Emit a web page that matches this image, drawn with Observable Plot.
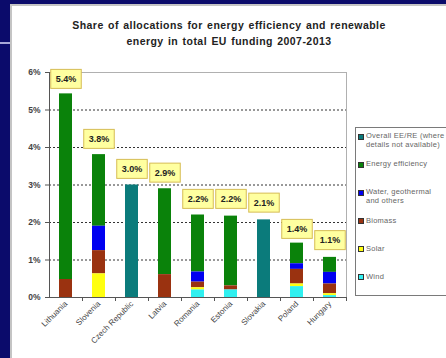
<!DOCTYPE html>
<html>
<head>
<meta charset="utf-8">
<script src="https://cdn.jsdelivr.net/npm/d3@7"></script>
<script src="https://cdn.jsdelivr.net/npm/@observablehq/plot@0.6"></script>
<style>
  html, body { margin: 0; padding: 0; }
  body { width: 446px; height: 358px; overflow: hidden; font-family: "Liberation Sans", Arial, sans-serif; }
  #wrap { position: relative; width: 446px; height: 358px; background: #0b0b6b; overflow: hidden; }
  #panel { position: absolute; left: 10px; top: 4px; width: 460px; height: 380px; background: #fff; border: 2px solid #c4c4c4; }
  #deco { position: absolute; left: 0; top: 42px; width: 10px; height: 2px; background: #a8a8d8; }
  #title { position: absolute; left: 12px; width: 434px; top: 17px; text-align: center; font-weight: bold; font-size: 10.5px; line-height: 16px; color: #222; letter-spacing: 0.45px; word-spacing: 1px; }
  #chart { position: absolute; left: 0; top: 0; }
  #legend { position: absolute; left: 355px; top: 127px; width: 120px; height: 169px; border: 1px solid #7a7a7a; background: #fff; padding-top: 3px; box-sizing: border-box; }
  .item { display: flex; align-items: flex-start; height: 28.2px; }
  .sw { width: 4px; height: 4px; border: 1px solid #333; margin: 2.5px 2px 0 2px; flex: none; }
  .lab { font-size: 7.5px; line-height: 9px; color: #666; white-space: pre-line; letter-spacing: 0.25px; }
</style>
</head>
<body>
<div id="wrap">
  <div id="panel"></div>
  <div id="deco"></div>
  <div id="title"></div>
  <div id="chart"></div>
  <div id="legend"></div>
</div>
<script>
// ---- data ----
const titleLines = ["Share of allocations for energy efficiency and renewable", "energy in total EU funding 2007-2013"];
const countries = ["Lithuania", "Slovenia", "Czech Republic", "Latvia", "Romania", "Estonia", "Slovakia", "Poland", "Hungary"];
const totals = [5.4, 3.8, 3.0, 2.9, 2.2, 2.2, 2.1, 1.4, 1.1];
const wind = [0, 0, 0, 0, 0.20, 0.20, 0, 0.29, 0.05];
const solar = [0, 0.63, 0, 0, 0.06, 0, 0, 0.07, 0.05];
const biomass = [0.48, 0.62, 0, 0.61, 0.15, 0.11, 0, 0.39, 0.26];
const water = [0, 0.65, 0, 0, 0.27, 0, 0, 0.15, 0.31];
const efficiency = [4.95, 1.91, 0, 2.29, 1.52, 1.86, 0, 0.55, 0.40];
const overall = [0, 0, 3.0, 0, 0, 0, 2.07, 0, 0];
const seriesNames = ["Overall EE/RE (where\ndetails not available)", "Energy efficiency", "Water, geothermal\nand others", "Biomass", "Solar", "Wind"];
const seriesValues = [overall, efficiency, water, biomass, solar, wind];
const yTicks = [0, 1, 2, 3, 4, 5, 6];
const gridTicks = [1, 2, 3, 4, 5];
const colors = ["#0b7b7b", "#0a820a", "#0000f0", "#9a3210", "#ffff10", "#30f0f0"];

// tidy table
const table = [];
seriesNames.forEach((s, k) => countries.forEach((c, i) => table.push({country: c, type: s, value: seriesValues[k][i]})));
const stackOrder = seriesNames.slice().reverse();
const labels = countries.map((c, i) => ({country: c, total: totals[i]}));

document.getElementById("title").innerHTML = titleLines.join("<br>");

const plot = Plot.plot({
  width: 446,
  height: 358,
  marginLeft: 49,
  marginRight: 100,
  marginTop: 72,
  marginBottom: 61,
  style: {background: "transparent", fontFamily: "Liberation Sans, Arial, sans-serif", color: "#333"},
  x: {domain: countries, paddingInner: 0.6, paddingOuter: 0.3, label: null},
  y: {domain: [0, 6], label: null},
  color: {domain: seriesNames, range: colors},
  marks: [
    Plot.gridY(gridTicks, {stroke: "#333", strokeOpacity: 1, strokeDasharray: "2,2"}),
    Plot.frame({stroke: "#b0b0b0"}),
    Plot.barY(table, {x: "country", y: "value", fill: "type", z: "type", order: stackOrder}),
    Plot.frame({anchor: "left", stroke: "#555"}),
    Plot.frame({anchor: "bottom", stroke: "#555"}),
    Plot.axisY({ticks: yTicks, tickFormat: d => d + "%", tickSize: 4, tickPadding: 5, fontSize: 8.5, fontWeight: "bold", label: null, stroke: "#555", fill: "#444"}),
    Plot.axisX({tickSize: 0, tickRotate: -45, tickPadding: 5, fontSize: 8, label: null, fill: "#444"}),
    Plot.axisX({tickSize: 4, tickFormat: () => "", dx: 16.5, label: null, stroke: "#555"}),
    Plot.text(labels, {x: "country", y: "total", text: d => d.total.toFixed(1) + "%", dy: -16, fontSize: 9, fontWeight: "bold", fill: "#222", className: "vlabel"})
  ]
});
document.getElementById("chart").appendChild(plot);

// yellow label boxes behind the value texts
d3.select(plot).selectAll(".vlabel text").each(function() {
  const bb = this.getBBox();
  const r = document.createElementNS("http://www.w3.org/2000/svg", "rect");
  r.setAttribute("x", bb.x - 5);
  r.setAttribute("y", bb.y - 4.5);
  r.setAttribute("width", bb.width + 10);
  r.setAttribute("height", bb.height + 9);
  r.setAttribute("fill", "#ffffa0");
  r.setAttribute("stroke", "#d6bd55");
  r.setAttribute("stroke-width", "1");
  const t = this.getAttribute("transform");
  if (t) r.setAttribute("transform", t);
  this.parentNode.insertBefore(r, this);
});

// legend
const legend = d3.select("#legend");
seriesNames.forEach((s, k) => {
  const it = legend.append("div").attr("class", "item");
  it.append("div").attr("class", "sw").style("background", colors[k]);
  it.append("div").attr("class", "lab").text(s);
});
</script>
</body>
</html>
